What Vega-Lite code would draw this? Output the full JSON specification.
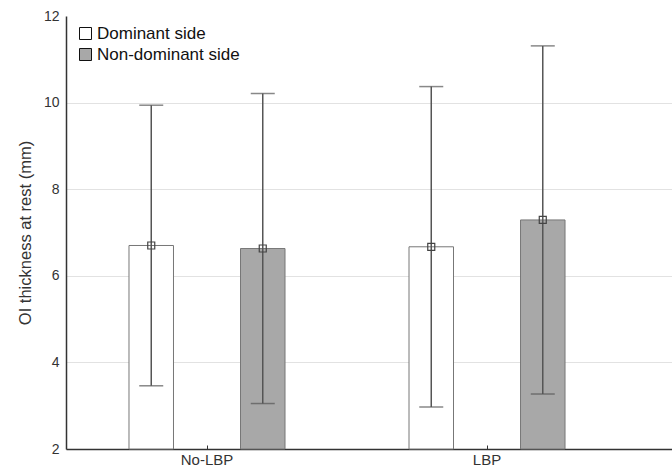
{
  "$schema": "https://vega.github.io/schema/vega-lite/v6.json",
  "width": 606,
  "height": 433,
  "autosize": {"type": "none"},
  "padding": {"left": 66, "top": 16, "right": 0, "bottom": 24},
  "config": {
    "font": "Liberation Sans",
    "view": {"stroke": null},
    "axis": {"labelColor": "#333", "domainColor": "#333", "titleColor": "#333", "titleFontWeight": "normal"}
  },
  "data": {
    "values": [
      {"group": "No-LBP", "side": "Dominant side", "mean": 6.70, "lo": 3.46, "hi": 9.94},
      {"group": "No-LBP", "side": "Non-dominant side", "mean": 6.63, "lo": 3.05, "hi": 10.21},
      {"group": "LBP", "side": "Dominant side", "mean": 6.67, "lo": 2.97, "hi": 10.37},
      {"group": "LBP", "side": "Non-dominant side", "mean": 7.29, "lo": 3.27, "hi": 11.31}
    ]
  },
  "encoding": {
    "x": {
      "field": "group", "type": "nominal", "sort": ["No-LBP", "LBP"],
      "scale": {"paddingInner": 0, "paddingOuter": 0.0821, "align": 0.0217},
      "axis": {"title": null, "labelAngle": 0, "labelFontSize": 15, "labelPadding": 7, "tickSize": -4, "tickColor": "#333", "domainWidth": 1.5, "labelBaseline": "top"}
    },
    "xOffset": {
      "field": "side", "type": "nominal", "sort": ["Dominant side", "Non-dominant side"],
      "scale": {"paddingInner": 0.601, "paddingOuter": 0.556}
    }
  },
  "layer": [
    {
      "mark": {"type": "bar", "stroke": "#777", "strokeWidth": 1},
      "encoding": {
        "y": {
          "field": "mean", "type": "quantitative",
          "scale": {"domain": [2, 12], "zero": false, "nice": false},
          "axis": {
            "title": "OI thickness at rest (mm)", "titleFontSize": 16.5, "titlePadding": 10,
            "values": [2, 4, 6, 8, 10, 12], "labelFontSize": 14, "labelPadding": 7,
            "ticks": false, "domainWidth": 1.5,
            "gridColor": "#e2e2e2", "gridWidth": 1.2,
            "gridOpacity": {"condition": {"test": "datum.value >= 11", "value": 0}, "value": 1}
          }
        },
        "y2": {"datum": 2},
        "fill": {
          "field": "side", "type": "nominal",
          "scale": {"domain": ["Dominant side", "Non-dominant side"], "range": ["#ffffff", "#a8a8a8"]},
          "legend": {
            "title": null, "orient": "none", "legendX": 11, "legendY": 9, "padding": 0,
            "symbolType": "square", "symbolSize": 144, "symbolStrokeColor": "#111", "symbolStrokeWidth": 1,
            "labelFontSize": 17, "labelColor": "#111", "labelOffset": 3, "rowPadding": 3
          }
        }
      }
    },
    {
      "mark": {"type": "rule", "color": "#555", "strokeWidth": 1.5},
      "encoding": {
        "y": {"field": "lo", "type": "quantitative"},
        "y2": {"field": "hi"}
      }
    },
    {
      "mark": {"type": "tick", "color": "#555", "thickness": 1.5, "size": 24, "orient": "horizontal"},
      "encoding": {"y": {"field": "hi", "type": "quantitative"}}
    },
    {
      "mark": {"type": "tick", "color": "#555", "thickness": 1.5, "size": 24, "orient": "horizontal"},
      "encoding": {"y": {"field": "lo", "type": "quantitative"}}
    },
    {
      "mark": {"type": "point", "shape": "square", "size": 49, "filled": false, "stroke": "#444", "strokeWidth": 1.2, "opacity": 1},
      "encoding": {"y": {"field": "mean", "type": "quantitative"}}
    }
  ]
}
